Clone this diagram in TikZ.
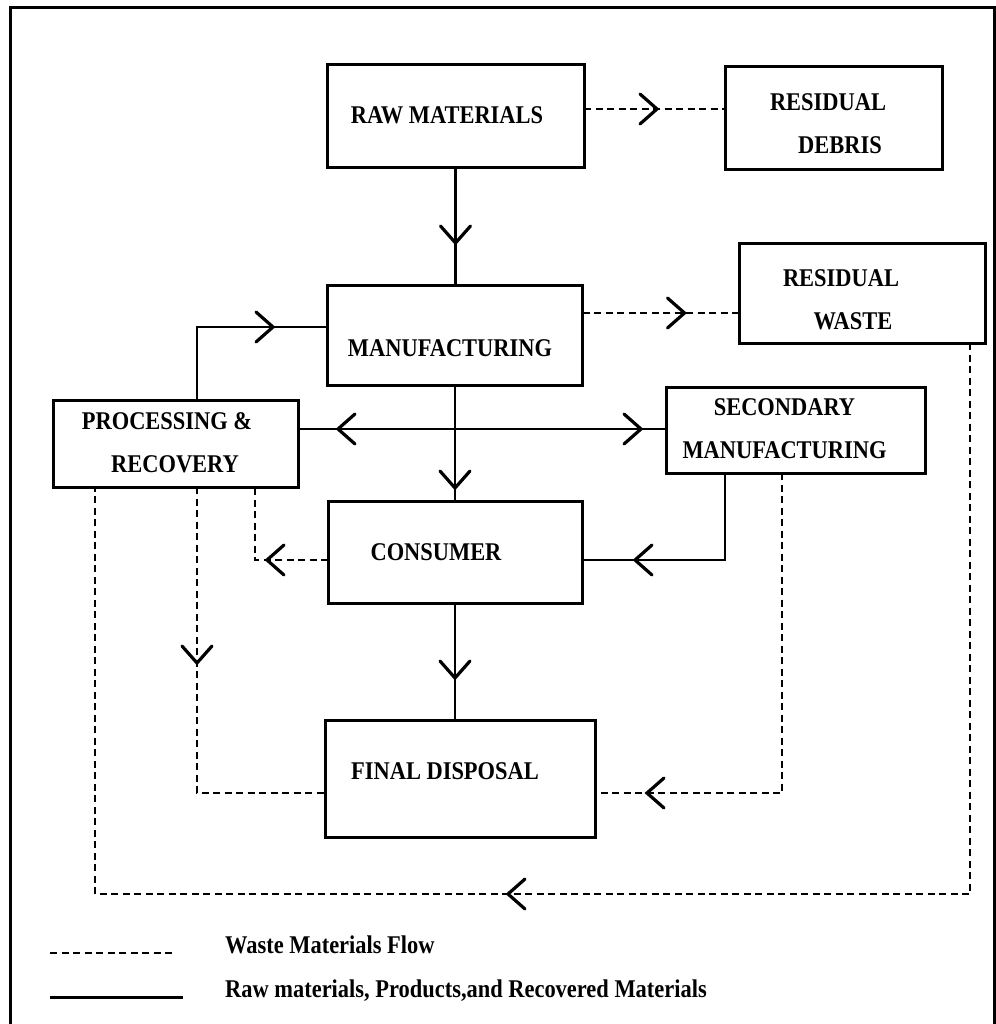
\documentclass[tikz,border=0pt]{standalone}
\usepackage{fontspec}
\setmainfont{Liberation Serif}[FakeStretch=0.88]
\usetikzlibrary{decorations.markings}
\tikzset{
  box/.style={draw, line width=3pt, inner sep=0pt, outer sep=0pt},
  txt/.style={font=\bfseries\fontsize{25.5}{43}\selectfont, align=center, inner sep=0pt},
  flow/.style={line width=2.4pt},
  waste/.style={line width=1.6pt, dash pattern=on 7pt off 4.5pt},
  chev/.style={postaction={decorate, decoration={markings,
     mark=at position #1 with {\draw[solid, line width=3.2pt, line cap=round, line join=miter]
       (-17pt,-15pt) -- (0pt,0pt) -- (-17pt,15pt);}}}},
}
\begin{document}
\begin{tikzpicture}[x=1pt, y=-1pt]
\useasboundingbox (0,0) rectangle (995,1024);
% frame
\draw[line width=3pt] (10,1030) -- (10,8) -- (994,8) -- (994,1030);

% boxes
\node[box, minimum width=257pt, minimum height=103pt,
      label={[txt, xshift=-8.5pt, yshift=1.5pt]center:RAW MATERIALS}] (RM) at (455.5,116.5) {};
\node[box, minimum width=217pt, minimum height=103pt,
      label={[txt, xshift=-5.5pt, yshift=-5.5pt]center:RESIDUAL\\\hspace*{24pt}DEBRIS}] (RD) at (833.5,118.5) {};
\node[box, minimum width=246pt, minimum height=100pt,
      label={[txt, xshift=-21pt, yshift=-6.5pt]center:RESIDUAL\\\hspace*{24pt}WASTE}] (RW) at (862,293) {};
\node[box, minimum width=255pt, minimum height=100pt,
      label={[txt, xshift=-5pt, yshift=-13pt]center:MANUFACTURING}] (MF) at (455,335) {};
\node[box, minimum width=245pt, minimum height=87pt,
      label={[txt, xshift=-8.5pt, yshift=1pt]center:PROCESSING \&\\\hspace*{16pt}RECOVERY}] (PR) at (175.5,443.5) {};
\node[box, minimum width=259pt, minimum height=86pt,
      label={[txt, xshift=-11pt, yshift=1pt]center:SECONDARY\\MANUFACTURING}] (SM) at (795.5,430) {};
\node[box, minimum width=254pt, minimum height=102pt,
      label={[txt, xshift=-19pt]center:CONSUMER}] (CON) at (455,552) {};
\node[box, minimum width=270pt, minimum height=117pt,
      label={[txt, xshift=-15pt, yshift=7.5pt]center:FINAL DISPOSAL}] (FD) at (460,778.5) {};

% helper coordinates
\coordinate (a1) at ([yshift=7.5pt]RM.east);
\coordinate (a2) at ([yshift=22pt]MF.east);
\coordinate (a3) at ([xshift=21.5pt]PR.north);
\coordinate (a4) at ([yshift=8pt]MF.west);
\coordinate (h1) at ([yshift=14.5pt]PR.east);
\coordinate (j) at (h1 -| MF.south);
\coordinate (a5) at ([xshift=-70.5pt]SM.south);
\coordinate (a6) at ([yshift=-8pt]CON.east);
\coordinate (a7) at ([yshift=-8pt]CON.west);
\coordinate (a8) at ([xshift=79.5pt]PR.south);
\coordinate (a9) at ([xshift=21.5pt]PR.south);
\coordinate (a10) at ([yshift=-14.5pt]FD.west);
\coordinate (a11) at ([xshift=-13.5pt]SM.south);
\coordinate (a12) at ([yshift=-14.5pt]FD.east);
\coordinate (a13) at ([xshift=108pt]RW.south);
\coordinate (a14) at ([xshift=-80.5pt]PR.south);
\coordinate (lvl) at (500,894);

% solid flows
\draw[flow, chev=75pt] (RM.south) -- (RM.south |- MF.north);
\draw[flow, chev=149pt] (a3) |- (a4);
\draw[flow, chev=117pt] (j) -- (h1);
\draw[flow, chev=186pt] (j) -- (j -| SM.west);
\draw[flow, chev=103pt] (MF.south) -- (CON.north);
\draw[flow, chev=177pt] (a5) |- (a6);
\draw[flow, chev=75pt] (CON.south) -- (CON.south |- FD.north);

% waste flows
\draw[waste, chev=73pt] (a1) -- (a1 -| RD.west);
\draw[waste, chev=102pt] (a2) -- (a2 -| RW.west);
\draw[waste, chev=61pt] (a7) -| (a8);
\draw[waste, chev=176pt] (a9) |- (a10);
\draw[waste, chev=455pt] (a11) |- (a12);
\draw[waste, chev=1013pt] (a13) -- (a13 |- lvl) -| (a14);

% legend
\coordinate (ld1) at (50,953);
\coordinate (ld2) at (175,953);
\coordinate (ls1) at (50,997);
\coordinate (ls2) at (183,997);
\draw[waste] (ld1) -- (ld2);
\draw[line width=3pt] (ls1) -- (ls2);
\node[txt, anchor=base west] (l1) at (225,953) {Waste Materials Flow};
\node[txt, anchor=base west] (l2) at (225,997) {Raw materials, Products,and Recovered Materials};
\end{tikzpicture}
\end{document}
